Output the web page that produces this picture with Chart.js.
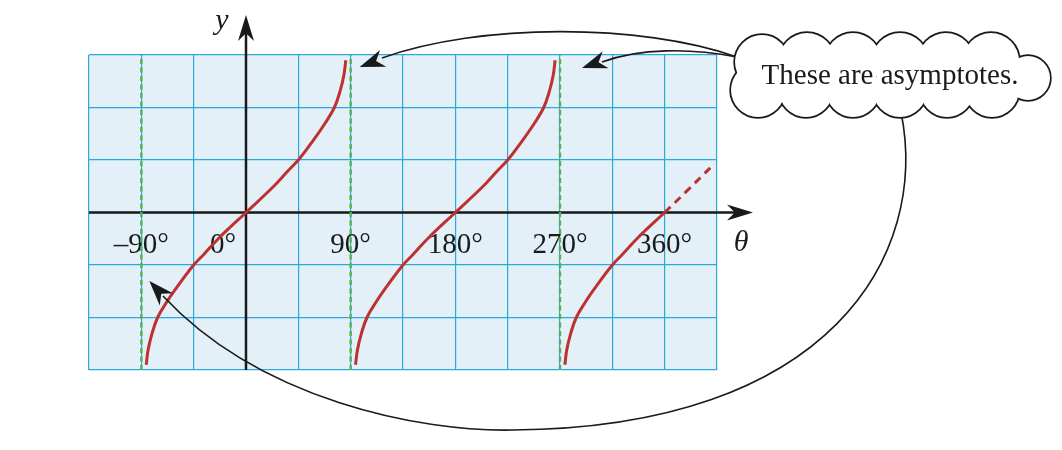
<!DOCTYPE html>
<html>
<head>
<meta charset="utf-8">
<script src="https://cdn.jsdelivr.net/npm/chart.js@4"></script>
<style>
  html, body { margin: 0; padding: 0; background: #fff; }
</style>
</head>
<body>
<canvas id="tanChart" width="1062" height="450"></canvas>
<script>
// values (theta in degrees, y in grid units)
const branchLeftX = [-85.8, -84.2, -81, -76, -68, -58, -45, -36, -23, 0, 23, 36, 45, 58, 68, 76, 81, 84.2, 85.8];
const branchLeftY = [-2.9, -2.62, -2.32, -2, -1.7, -1.38, -1, -0.79, -0.48, 0, 0.48, 0.79, 1, 1.38, 1.7, 2, 2.32, 2.62, 2.9];
const branchMidX = [94.2, 95.8, 99, 104, 112, 122, 135, 144, 157, 180, 203, 216, 225, 238, 248, 256, 261, 264.2, 265.8];
const branchMidY = [-2.9, -2.62, -2.32, -2, -1.7, -1.38, -1, -0.79, -0.48, 0, 0.48, 0.79, 1, 1.38, 1.7, 2, 2.32, 2.62, 2.9];
const branchRightX = [274.2, 275.8, 279, 284, 292, 302, 315, 324, 337, 360];
const branchRightY = [-2.9, -2.62, -2.32, -2, -1.7, -1.38, -1, -0.79, -0.48, 0];
const dashedX = [360, 380, 400.8];
const dashedY = [0, 0.43, 0.885];
const asymptoteX = [-90, 90, 270];
const tickValues = [-90, 0, 90, 180, 270, 360];
const tickLabels = ['\u201390\u00b0', '0\u00b0', '90\u00b0', '180\u00b0', '270\u00b0', '360\u00b0'];
const calloutText = 'These are asymptotes.';

const RED = '#be3131';
const GREEN = '#5cb04c';
const GRID = '#2ba8dc';
const INK = '#1a1a1a';
const SERIF = '"Liberation Serif", "Times New Roman", serif';

const toPoints = (xs, ys) => xs.map((x, i) => ({ x: x, y: ys[i] }));

const curveStyle = {
    borderColor: RED,
    borderWidth: 3,
    pointRadius: 0,
    tension: 0.4,
    fill: false
};

const datasets = [];
asymptoteX.forEach(a => {
    datasets.push({
        data: [{ x: a, y: -3 }, { x: a, y: 3 }],
        borderColor: GREEN,
        borderWidth: 2.4,
        borderDash: [5, 3.5],
        pointRadius: 0
    });
});
datasets.push(Object.assign({ data: toPoints(branchLeftX, branchLeftY) }, curveStyle));
datasets.push(Object.assign({ data: toPoints(branchMidX, branchMidY) }, curveStyle));
datasets.push(Object.assign({ data: toPoints(branchRightX, branchRightY) }, curveStyle));
datasets.push(Object.assign({ data: toPoints(dashedX, dashedY), borderDash: [8, 6] }, curveStyle));

// stealth arrow head, tip at (tx,ty), pointing along (dx,dy)
function arrowHead(ctx, tx, ty, dx, dy, len, half) {
    const d = Math.hypot(dx, dy);
    const ux = dx / d, uy = dy / d;
    const px = -uy, py = ux;
    const bx = tx - ux * len, by = ty - uy * len;
    const nx = tx - ux * len * 0.7, ny = ty - uy * len * 0.7;
    ctx.beginPath();
    ctx.moveTo(tx, ty);
    ctx.lineTo(bx + px * half, by + py * half);
    ctx.lineTo(nx, ny);
    ctx.lineTo(bx - px * half, by - py * half);
    ctx.closePath();
    ctx.fill();
}

// curve made of cubic pieces, then a head pointing along the last piece
function curvedArrow(ctx, start, pieces, tip) {
    ctx.beginPath();
    ctx.moveTo(start[0], start[1]);
    pieces.forEach(p => ctx.bezierCurveTo(p[0], p[1], p[2], p[3], p[4], p[5]));
    ctx.stroke();
    const last = pieces[pieces.length - 1];
    arrowHead(ctx, tip[0], tip[1], tip[0] - last[2], tip[1] - last[3], 25, 9);
}

const backdrop = {
    id: 'backdrop',
    beforeDraw(chart) {
        const { ctx, chartArea: a } = chart;
        ctx.save();
        ctx.fillStyle = '#e3f0f8';
        ctx.fillRect(a.left, a.top, a.right - a.left, a.bottom - a.top);
        ctx.restore();
    }
};

const axesArrows = {
    id: 'axesArrows',
    beforeDatasetsDraw(chart) {
        const { ctx, chartArea: a, scales: { x, y } } = chart;
        const x0 = x.getPixelForValue(0);
        const y0 = y.getPixelForValue(0);
        const xTip = a.right + 36;
        const yTip = a.top - 40;
        ctx.save();
        ctx.strokeStyle = INK;
        ctx.fillStyle = INK;
        ctx.lineWidth = 2.5;
        ctx.beginPath();
        ctx.moveTo(a.left, y0);
        ctx.lineTo(xTip - 14, y0);
        ctx.moveTo(x0, a.bottom);
        ctx.lineTo(x0, yTip + 14);
        ctx.stroke();
        arrowHead(ctx, xTip, y0, 1, 0, 26, 8);
        arrowHead(ctx, x0, yTip, 0, -1, 26, 8);

        ctx.font = 'italic 30px ' + SERIF;
        ctx.textAlign = 'center';
        ctx.textBaseline = 'alphabetic';
        ctx.fillText('y', x0 - 24, yTip + 14);
        ctx.fillText('\u03b8', xTip - 12, y0 + 38);

        ctx.font = '29px ' + SERIF;
        tickValues.forEach((v, i) => {
            const px = x.getPixelForValue(v);
            if (v === 0) {
                ctx.textAlign = 'right';
                ctx.fillText(tickLabels[i], px - 10, y0 + 40);
            } else {
                ctx.textAlign = 'center';
                ctx.fillText(tickLabels[i], px, y0 + 40);
            }
        });
        ctx.restore();
    }
};

const callout = {
    id: 'callout',
    afterDraw(chart) {
        const { ctx, scales: { x } } = chart;
        ctx.save();
        ctx.strokeStyle = INK;
        ctx.fillStyle = INK;
        ctx.lineWidth = 1.6;

        // arrow to the 90 degree asymptote
        const t1 = [x.getPixelForValue(90) + 9, 67];
        curvedArrow(ctx, [737, 57], [[640, 23, 480, 23, 382, 58]], t1);

        // arrow to the 270 degree asymptote
        const t2 = [x.getPixelForValue(270) + 22, 68];
        curvedArrow(ctx, [737, 57], [[690, 48, 640, 48, 602, 62]], t2);

        // long arrow round the bottom to the -90 degree asymptote
        const t3 = [x.getPixelForValue(-90) + 8, 281];
        curvedArrow(ctx, [901, 112], [
            [930, 255, 830, 428, 513, 430],
            [420, 432, 260, 400, 163, 296]
        ], t3);

        // cloud
        const bumps = [
            [762, 62, 27], [807, 61, 28], [853, 61, 28], [900, 61, 28], [946, 61, 28], [991, 61, 28],
            [758, 90, 27], [806, 90, 27], [853, 90, 27], [900, 90, 27], [947, 90, 27], [992, 90, 27],
            [1028, 78, 22]
        ];
        ctx.lineWidth = 3.4;
        bumps.forEach(b => {
            ctx.beginPath();
            ctx.arc(b[0], b[1], b[2], 0, Math.PI * 2);
            ctx.stroke();
        });
        ctx.fillStyle = '#ffffff';
        bumps.forEach(b => {
            ctx.beginPath();
            ctx.arc(b[0], b[1], b[2], 0, Math.PI * 2);
            ctx.fill();
        });
        ctx.fillStyle = INK;
        ctx.font = '29px ' + SERIF;
        ctx.textAlign = 'center';
        ctx.textBaseline = 'alphabetic';
        ctx.fillText(calloutText, 890, 83.5);
        ctx.restore();
    }
};

new Chart(document.getElementById('tanChart'), {
    type: 'line',
    data: { datasets: datasets },
    options: {
        responsive: false,
        animation: false,
        layout: { padding: { left: 89, right: 345, top: 55, bottom: 80 } },
        plugins: { legend: { display: false }, tooltip: { enabled: false } },
        scales: {
            x: {
                type: 'linear',
                min: -135,
                max: 405,
                ticks: { display: false, stepSize: 45 },
                grid: { color: GRID, lineWidth: 1.2, drawTicks: false },
                border: { display: false }
            },
            y: {
                type: 'linear',
                min: -3,
                max: 3,
                ticks: { display: false, stepSize: 1 },
                grid: { color: GRID, lineWidth: 1.2, drawTicks: false },
                border: { display: false }
            }
        }
    },
    plugins: [backdrop, axesArrows, callout]
});
</script>
</body>
</html>
